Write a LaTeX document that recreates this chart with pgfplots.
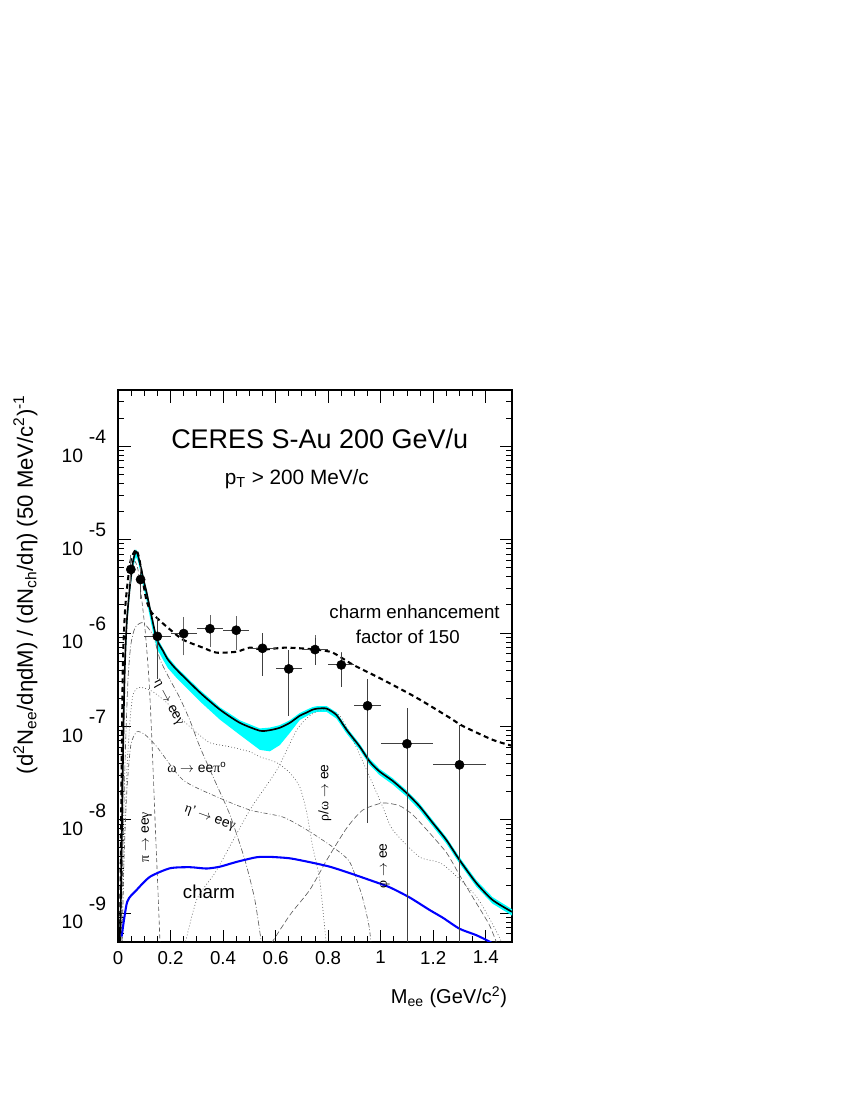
\documentclass[border=0pt]{standalone}
\usepackage{pgfplots}
\pgfplotsset{compat=1.18}
\usepgfplotslibrary{fillbetween}
\usepackage{pgfplotstable}
\usepackage{fontspec}
\setmainfont{Liberation Sans}
\newfontfamily\grk{Liberation Serif}
\definecolor{bandcyan}{RGB}{0,255,255}
\definecolor{charmblue}{RGB}{0,0,255}

% total cocktail with its band (lo/hi)
\pgfplotstableread{
x      tot      lo       hi
0.005  4e-10    3e-10    5e-10
0.011  1.38e-9  1.1e-9   1.6e-9
0.015  7.8e-9   6e-9     9e-9
0.019  4.4e-8   3.4e-8   5.2e-8
0.023  1.93e-7  1.5e-7   2.3e-7
0.027  5.2e-7   4.2e-7   6.0e-7
0.034  1.39e-6  1.15e-6  1.6e-6
0.046  3.31e-6  2.8e-6   3.7e-6
0.057  5.83e-6  5.0e-6   6.4e-6
0.068  7.46e-6  6.5e-6   7.9e-6
0.076  6.8e-6   5.9e-6   7.2e-6
0.086  5.2e-6   4.4e-6   5.5e-6
0.097  3.74e-6  3.1e-6   4.0e-6
0.109  2.71e-6  2.2e-6   2.9e-6
0.128  1.50e-6  1.2e-6   1.6e-6
0.148  8.5e-7   6.8e-7   9.0e-7
0.171  6.46e-7  5.2e-7   6.9e-7
0.190  5.19e-7  4.2e-7   5.55e-7
0.223  4.05e-7  3.3e-7   4.3e-7
0.312  2.30e-7  1.85e-7  2.45e-7
0.388  1.51e-7  1.18e-7  1.6e-7
0.464  1.09e-7  8.1e-8   1.16e-7
0.540  8.97e-8  5.6e-8   9.5e-8
0.578  9.1e-8   5.4e-8   9.7e-8
0.616  9.66e-8  6.3e-8   1.03e-7
0.654  1.09e-7  8.5e-8   1.16e-7
0.692  1.30e-7  1.17e-7  1.39e-7
0.717  1.40e-7  1.28e-7  1.5e-7
0.741  1.51e-7  1.39e-7  1.61e-7
0.760  1.55e-7  1.43e-7  1.65e-7
0.794  1.55e-7  1.43e-7  1.65e-7
0.832  1.32e-7  1.21e-7  1.41e-7
0.870  9.2e-8   8.4e-8   9.8e-8
0.920  6.08e-8  5.6e-8   6.5e-8
0.958  4.2e-8   3.85e-8  4.5e-8
0.996  3.28e-8  3.0e-8   3.5e-8
1.046  2.6e-8   2.38e-8  2.78e-8
1.098  1.94e-8  1.78e-8  2.07e-8
1.148  1.39e-8  1.27e-8  1.49e-8
1.198  9.25e-9  8.5e-9   9.9e-9
1.250  6.07e-9  5.55e-9  6.5e-9
1.300  3.71e-9  3.4e-9   3.97e-9
1.364  2.10e-9  1.92e-9  2.25e-9
1.426  1.38e-9  1.26e-9  1.48e-9
1.500  1.03e-9  0.94e-9  1.1e-9
}\cocktail

% data: stat errors
\pgfplotstableread{
x     y        ex    sp       sm
0.049 4.79e-6  0     0.49e-6  0.56e-6
0.086 3.74e-6  0     0.71e-6  0.96e-6
0.15  9.2e-7   0.05  5.8e-7   6.0e-7
0.25  9.86e-7  0.05  1.04e-7  0.93e-7
0.35  1.11e-6  0.05  1.1e-7   1.1e-7
0.45  1.07e-6  0.05  1.0e-7   1.04e-7
0.55  6.85e-7  0.05  3.15e-7  3.42e-7
0.65  4.12e-7  0.05  2.52e-7  2.84e-7
0.75  6.64e-7  0.05  2.29e-7  2.06e-7
0.85  4.55e-7  0.05  1.61e-7  1.89e-7
0.95  1.66e-7  0.05  1.58e-7  1.5675e-7
1.10  6.5e-8   0.10  9.2e-8   6.49e-8
1.30  3.87e-8  0.10  6.53e-8  3.86e-8
}\points

% data: systematic errors
\pgfplotstableread{
x     y        sp       sm
0.049 4.79e-6  1.34e-6  1.05e-6
0.086 3.74e-6  0.82e-6  1.16e-6
0.15  9.2e-7   2.5e-7   2.23e-7
0.25  9.86e-7  3.54e-7  3.5e-7
0.35  1.11e-6  2.8e-7   3.27e-7
0.45  1.07e-6  3.0e-7   3.37e-7
0.55  6.85e-7  1.64e-7  0.94e-7
0.65  4.12e-7  1.07e-7  0.96e-7
0.75  6.64e-7  1.85e-7  1.45e-7
0.85  4.55e-7  1.07e-7  1.12e-7
0.95  1.66e-7  4.9e-8   4.3e-8
1.10  6.5e-8   1.83e-8  1.66e-8
1.30  3.87e-8  0.97e-8  0.97e-8
}\systab

\begin{document}
\begin{tikzpicture}[font=\fontsize{13.5}{16}\selectfont]
\begin{axis}[
    scale only axis,
    width=283.7bp, height=397.4bp,
    xmin=0, xmax=1.5,
    ymode=log, ymin=4.9e-10, ymax=4e-4,
    xtick={0,0.2,0.4,0.6,0.8,1,1.2,1.4},
    xticklabels={0,0.2,0.4,0.6,0.8,1,1.2,1.4},
    minor x tick num=3,
    ytick={1e-9,1e-8,1e-7,1e-6,1e-5,1e-4},
    yticklabels={10\hspace{0.3em}\raisebox{0.95em}{-9},10\hspace{0.3em}\raisebox{0.95em}{-8},
      10\hspace{0.3em}\raisebox{0.95em}{-7},10\hspace{0.3em}\raisebox{0.95em}{-6},
      10\hspace{0.3em}\raisebox{0.95em}{-5},10\hspace{0.3em}\raisebox{0.95em}{-4}},
    extra y ticks={5e-10,6e-10,7e-10,8e-10,9e-10,2e-4,3e-4},
    extra y tick labels={},
    extra y tick style={major tick length=4.5bp},
    tick align=inside,
    major tick length=9bp,
    minor tick length=4.5bp,
    every tick/.style={black, line width=0.6pt},
    axis line style={line width=1.1pt},
    yticklabel style={xshift=-5bp, font=\fontsize{14}{16}\selectfont},
    xticklabel style={yshift=-3bp},
    xlabel={M\textsubscript{ee} (GeV/c\textsuperscript{2})},
    xlabel style={at={(rel axis cs:1,-0.072)}, anchor=north east, font=\fontsize{14.5}{17}\selectfont},
    ylabel={(d\textsuperscript{2}N\textsubscript{ee}/dηdM) / (dN\textsubscript{ch}/dη) (50 MeV/c\textsuperscript{2})\textsuperscript{-1}},
    ylabel style={at={(rel axis cs:-0.192,1)}, anchor=south east, font=\fontsize{16}{19}\selectfont},
]
% band
\addplot[name path=up, draw=none, forget plot] table[x=x, y=hi]{\cocktail};
\addplot[name path=lo, draw=none, forget plot] table[x=x, y=lo]{\cocktail};
\addplot[bandcyan, draw=none] fill between[of=up and lo];

% components
\addplot[black!65, line width=0.45pt, dash pattern=on 3bp off 2bp, smooth, tension=0.4] coordinates {
(0.008,4e-10) (0.011,4.74e-9) (0.015,4.38e-8) (0.023,3.16e-7) (0.034,1.39e-6) (0.046,3.07e-6)
(0.057,5.03e-6) (0.065,5.83e-6) (0.076,4.79e-6) (0.086,2.92e-6) (0.103,1.09e-6) (0.118,3.16e-7)
(0.129,7.18e-8) (0.141,9.95e-9) (0.152,1.77e-9) (0.161,4e-10)};
\addplot[black!65, line width=0.45pt, dash pattern=on 4bp off 1.5bp on 0.6bp off 1.5bp, smooth, tension=0.4] coordinates {
(0.011,4e-10) (0.019,4.74e-9) (0.027,4.38e-8) (0.038,3.16e-7) (0.049,7.52e-7) (0.065,1.14e-6)
(0.095,1.29e-6) (0.133,9.5e-7) (0.160,5.2e-7) (0.198,3.16e-7) (0.236,2.0e-7) (0.274,1.15e-7)
(0.312,6.0e-8) (0.369,2.6e-8) (0.426,1.13e-8) (0.483,3.71e-9) (0.521,1.38e-9) (0.550,4e-10)};
\addplot[black!65, line width=0.45pt, dash pattern=on 0.6bp off 1.6bp, smooth, tension=0.4] coordinates {
(0.015,4e-10) (0.023,4.74e-9) (0.034,3.42e-8) (0.046,1.18e-7) (0.057,2.18e-7) (0.076,2.59e-7)
(0.095,2.59e-7) (0.133,2.35e-7) (0.186,1.79e-7) (0.236,1.24e-7) (0.300,8.53e-8) (0.350,6.67e-8)
(0.426,6.04e-8) (0.502,5.34e-8) (0.540,4.72e-8) (0.605,4.07e-8) (0.654,3.18e-8) (0.692,2.25e-8)
(0.719,1.18e-8) (0.741,5.11e-9) (0.768,2.26e-9) (0.795,4e-10)};
\addplot[black!65, line width=0.45pt, dash pattern=on 3bp off 1.5bp on 0.6bp off 1.5bp, smooth, tension=0.4] coordinates {
(0.015,4e-10) (0.023,3.71e-9) (0.034,2.09e-8) (0.049,6.35e-8) (0.072,8.75e-8) (0.103,8.13e-8)
(0.148,6.04e-8) (0.247,2.67e-8) (0.376,1.76e-8) (0.502,1.27e-8) (0.627,1.07e-8) (0.719,7.78e-9)
(0.817,5.11e-9) (0.882,3.52e-9) (0.928,1.56e-9) (0.955,7.43e-10) (0.966,4e-10)};
\addplot[black!65, line width=0.45pt, dash pattern=on 0.6bp off 1.6bp, smooth, tension=0.4] coordinates {
(0.250,4e-10) (0.300,1.4e-9) (0.376,2.89e-9) (0.502,1.27e-8) (0.605,3.42e-8) (0.681,9.2e-8)
(0.730,1.30e-7) (0.779,1.51e-7) (0.844,1.30e-7) (0.894,7.18e-8) (0.958,2.88e-8) (1.008,1.37e-8)
(1.046,7.78e-9) (1.148,3.99e-9) (1.236,3.33e-9) (1.365,1.49e-9) (1.452,5.5e-10) (1.47,4e-10)};
\addplot[black!65, line width=0.45pt, dash pattern=on 4bp off 2bp, smooth, tension=0.4] coordinates {
(0.567,4e-10) (0.654,9.5e-10) (0.730,1.77e-9) (0.795,3.71e-9) (0.871,8.17e-9) (0.932,1.27e-8)
(1.008,1.51e-8) (1.072,1.41e-8) (1.122,1.13e-8) (1.186,7.22e-9) (1.251,4.41e-9) (1.300,2.56e-9)
(1.357,1.38e-9) (1.414,7.43e-10) (1.452,4e-10)};

% charm
\addplot[charmblue, line width=1.5pt, smooth, tension=0.4] coordinates {
(0.014,5.6e-10) (0.035,1.32e-9) (0.071,1.77e-9) (0.122,2.45e-9) (0.198,3.02e-9) (0.274,3.1e-9)
(0.337,3.0e-9) (0.388,3.14e-9) (0.451,3.53e-9) (0.527,3.96e-9) (0.578,4.0e-9) (0.654,3.86e-9)
(0.730,3.51e-9) (0.806,3.14e-9) (0.882,2.68e-9) (0.958,2.26e-9) (1.034,1.89e-9) (1.110,1.47e-9)
(1.186,1.08e-9) (1.237,8.9e-10) (1.300,6.8e-10) (1.364,5.8e-10) (1.414,4.95e-10) (1.45,4.3e-10)};

% total cocktail
\addplot[black, line width=1.2pt, smooth, tension=0.4] table[x=x, y=tot]{\cocktail};

% charm enhanced by 150
\addplot[black, line width=1.5pt, dash pattern=on 3.6bp off 2.6bp, smooth, tension=0.4] coordinates {
(0.008,4e-10) (0.011,4.7e-9) (0.015,7.2e-8) (0.019,5.2e-7) (0.027,1.78e-6) (0.038,3.74e-6)
(0.049,6.1e-6) (0.068,7.8e-6) (0.080,6.43e-6) (0.090,4.45e-6) (0.099,3.07e-6) (0.109,2.2e-6)
(0.125,1.70e-6) (0.147,1.46e-6) (0.185,1.17e-6) (0.247,8.49e-7) (0.323,6.97e-7) (0.375,6.16e-7)
(0.451,6.3e-7) (0.502,6.97e-7) (0.551,6.64e-7) (0.641,6.97e-7) (0.755,6.64e-7) (0.817,6.16e-7)
(0.894,4.58e-7) (1.008,3.16e-7) (1.136,2.03e-7) (1.262,1.24e-7) (1.312,1.01e-7) (1.426,7.18e-8)
(1.5,6.19e-8)};

% systematic brackets
\addplot[only marks, mark=none, black!60,
    error bars/.cd, y dir=both, y explicit,
    error bar style={line width=0.6pt, black!60},
    error mark options={black!60, mark size=3pt, line width=0.6pt}]
    table[x=x, y=y, y error plus=sp, y error minus=sm]{\systab};
% data points with stat errors
\addplot[only marks, mark=*, mark size=3.3pt, black,
    error bars/.cd, x dir=both, x explicit, y dir=both, y explicit,
    error mark=none, error bar style={line width=0.65pt, black!75}]
    table[x=x, y=y, x error=ex, y error plus=sp, y error minus=sm]{\points};

% texts
\node[font=\fontsize{19.5}{22}\selectfont] at (axis cs:0.768,1.19e-4) {CERES S-Au 200 GeV/u};
\node[font=\fontsize{15}{18}\selectfont] at (axis cs:0.681,4.43e-5) {p\textsubscript{T} > 200 MeV/c};
\node at (axis cs:1.129,1.70e-6) {charm enhancement};
\node at (axis cs:1.103,9.15e-7) {factor of 150};
\node at (axis cs:0.346,1.68e-9) {charm};
\begin{scope}[font=\fontsize{10}{12}\selectfont]
\node[rotate=-62] at (axis cs:0.19,1.79e-7) {{\grk η} $\rightarrow$ ee{\grk γ}};
\node at (axis cs:0.300,3.6e-8) {{\grk ω} $\rightarrow$ ee{\grk π}\textsuperscript{o}};
\node[rotate=-20] at (axis cs:0.350,1.05e-8) {{\grk η}' $\rightarrow$ ee{\grk γ}};
\node[rotate=90] at (axis cs:0.109,6.5e-9) {{\grk π} $\rightarrow$ ee{\grk γ}};
\node[rotate=90] at (axis cs:0.787,1.94e-8) {{\grk ρ}/{\grk ω} $\rightarrow$ ee};
\node[rotate=90] at (axis cs:1.015,3.2e-9) {{\grk φ} $\rightarrow$ ee};
\end{scope}
\end{axis}
\path (-84.96bp,-113.76bp) rectangle (527.04bp,678.24bp);
\end{tikzpicture}
\end{document}
